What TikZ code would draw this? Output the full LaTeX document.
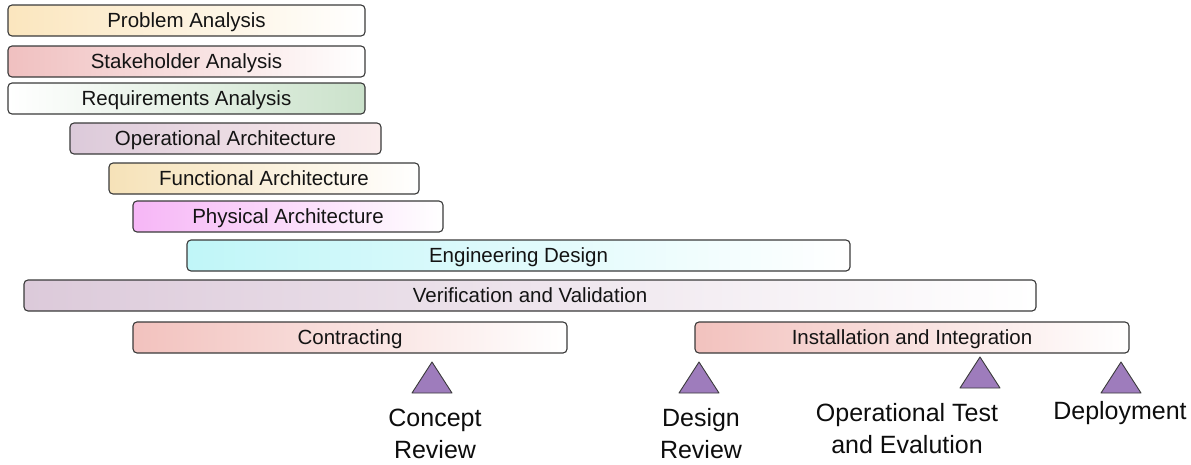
\documentclass[tikz,border=0pt]{standalone}
\usepackage{fontspec}
\setmainfont{Liberation Sans}
\definecolor{edge}{HTML}{3A3A3A}
\definecolor{cYellow}{HTML}{FBE6BE}
\definecolor{cPink}{HTML}{F0C0C0}
\definecolor{cGreen}{HTML}{CBE2CB}
\definecolor{cMauve}{HTML}{DCCADA}
\definecolor{cSand}{HTML}{F6E2B8}
\definecolor{cMagenta}{HTML}{F6B6F6}
\definecolor{cCyan}{HTML}{C0F6F8}
\definecolor{cSalmon}{HTML}{F2C2BE}
\definecolor{cTri}{HTML}{9E7CBC}
\tikzset{
  phase/.style={draw=edge, line width=1.1pt, rounded corners=4pt,
    minimum height=31pt, inner sep=0pt, text=black!92,
    text depth=1pt,
    font=\fontsize{20.5}{24}\selectfont, right color=white},
  marker/.style={draw=edge, line width=0.9pt, fill=cTri, line join=round},
  milestone/.style={align=center, inner sep=0pt, text=black!95,
    font=\fontsize{25}{32}\selectfont}
}
\begin{document}
\begin{tikzpicture}[x=1pt, y=-1pt]
\useasboundingbox (0,0) rectangle (1191,464);

% phase bars
\node[phase, minimum width=357pt, left color=cYellow]  (prob) at (186.5,20.5)  {Problem Analysis};
\node[phase, minimum width=357pt, left color=cPink]    (stak) at (186.5,61.5)  {Stakeholder Analysis};
\node[phase, minimum width=357pt, left color=white, right color=cGreen] (reqs) at (186.5,98.5) {Requirements Analysis};
\node[phase, minimum width=311pt, left color=cMauve, right color=white!70!cPink] (oper) at (225.5,138.5) {Operational Architecture};
\node[phase, minimum width=310pt, left color=cSand]    (func) at (264,178.5)   {Functional Architecture};
\node[phase, minimum width=310pt, left color=cMagenta] (phys) at (288,216.5)   {Physical Architecture};
\node[phase, minimum width=663pt, left color=cCyan]    (engd) at (518.5,255.5) {Engineering Design};
\node[phase, minimum width=1012pt, left color=cMauve]  (vnv)  at (530,295.5)   {Verification and Validation};
\node[phase, minimum width=434pt, left color=cSalmon]  (cont) at (350,337.5)   {Contracting};
\node[phase, minimum width=434pt, left color=cSalmon]  (inst) at (912,337.5)   {Installation and Integration};

% milestone markers (apex points)
\coordinate (mConcept) at (432,362);
\coordinate (mDesign)  at (699,362);
\coordinate (mOpTest)  at (980,357);
\coordinate (mDeploy)  at (1121,362);
\foreach \m in {mConcept,mDesign,mOpTest,mDeploy}
  \draw[marker] (\m) -- ++(-20,31) -- ++(40,0) -- cycle;

% milestone labels
\node[milestone] (lConcept) at (435,434) {Concept\\Review};
\node[milestone] (lDesign)  at (701,434) {Design\\Review};
\node[milestone] (lOpTest)  at (907,429) {Operational Test\\and Evalution};
\node[milestone] (lDeploy)  at (1120,413) {Deployment};
\end{tikzpicture}
\end{document}
